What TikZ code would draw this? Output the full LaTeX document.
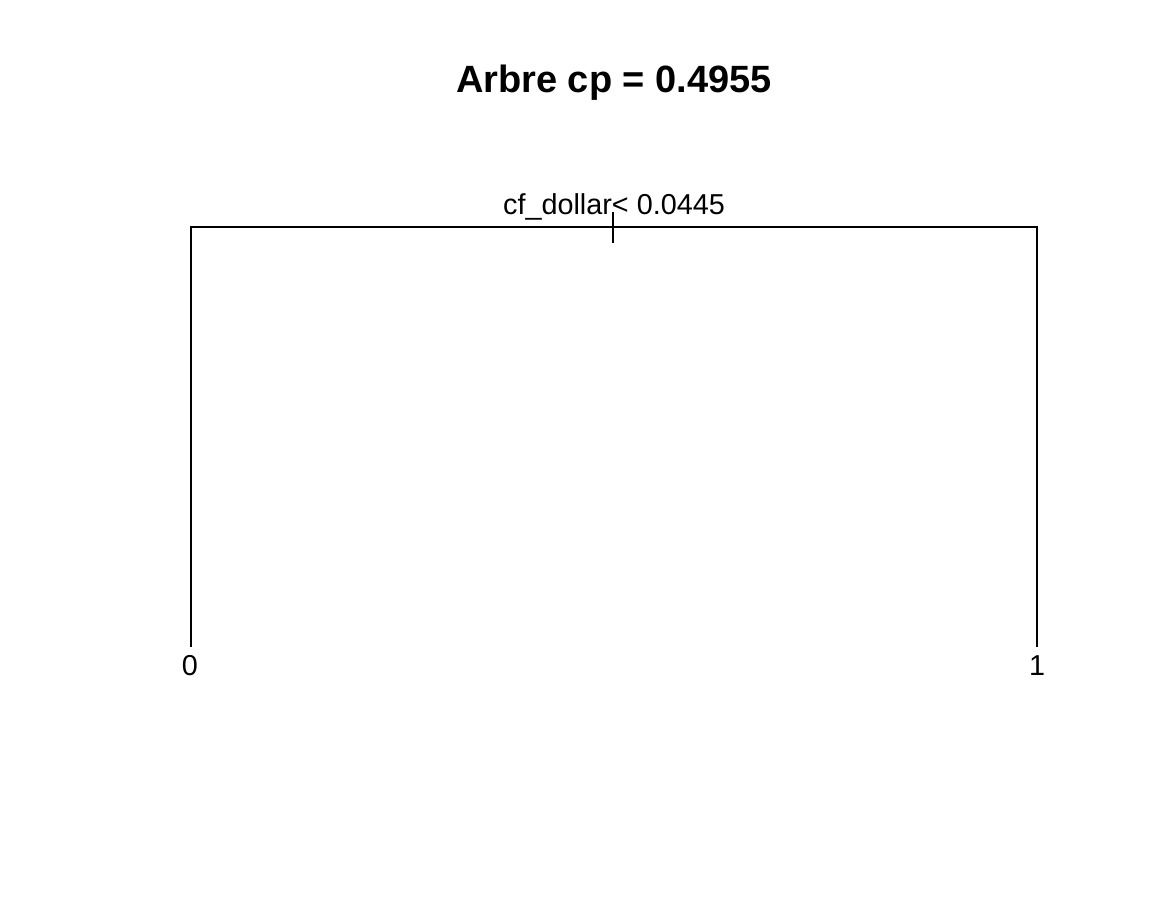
\documentclass[tikz,border=0pt]{standalone}
\usepackage{fontspec}
\setmainfont{Liberation Sans}
\begin{document}
\begin{tikzpicture}[x=1pt,y=-1pt,
  edge/.style={line width=1.5pt,line cap=rect},
  lbl/.style={inner sep=0pt,anchor=base,font=\fontsize{28.8}{30}\selectfont},
  ttl/.style={inner sep=0pt,anchor=base,font=\fontsize{38}{40}\selectfont\bfseries}]
\useasboundingbox[fill=white] (0,0) rectangle (1152,912);
\node[ttl] (title) at (614,93) {Arbre cp = 0.4955};
\coordinate (root) at (613,227);
\coordinate (rl) at (191,227);
\coordinate (rr) at (1037,227);
\coordinate (tt) at (613,213);
\coordinate (tb) at (613,242);
\coordinate (l0) at (191,646);
\coordinate (l1) at (1037,646);
\node[lbl] (split) at (614,215) {cf\_dollar< 0.0445};
\node[lbl] (leaf0) at (190,675) {0};
\node[lbl] (leaf1) at (1037,675) {1};
\draw[edge] (l0) -- (rl) -- (rr) -- (l1);
\draw[edge] (tt) -- (tb);
\end{tikzpicture}
\end{document}
